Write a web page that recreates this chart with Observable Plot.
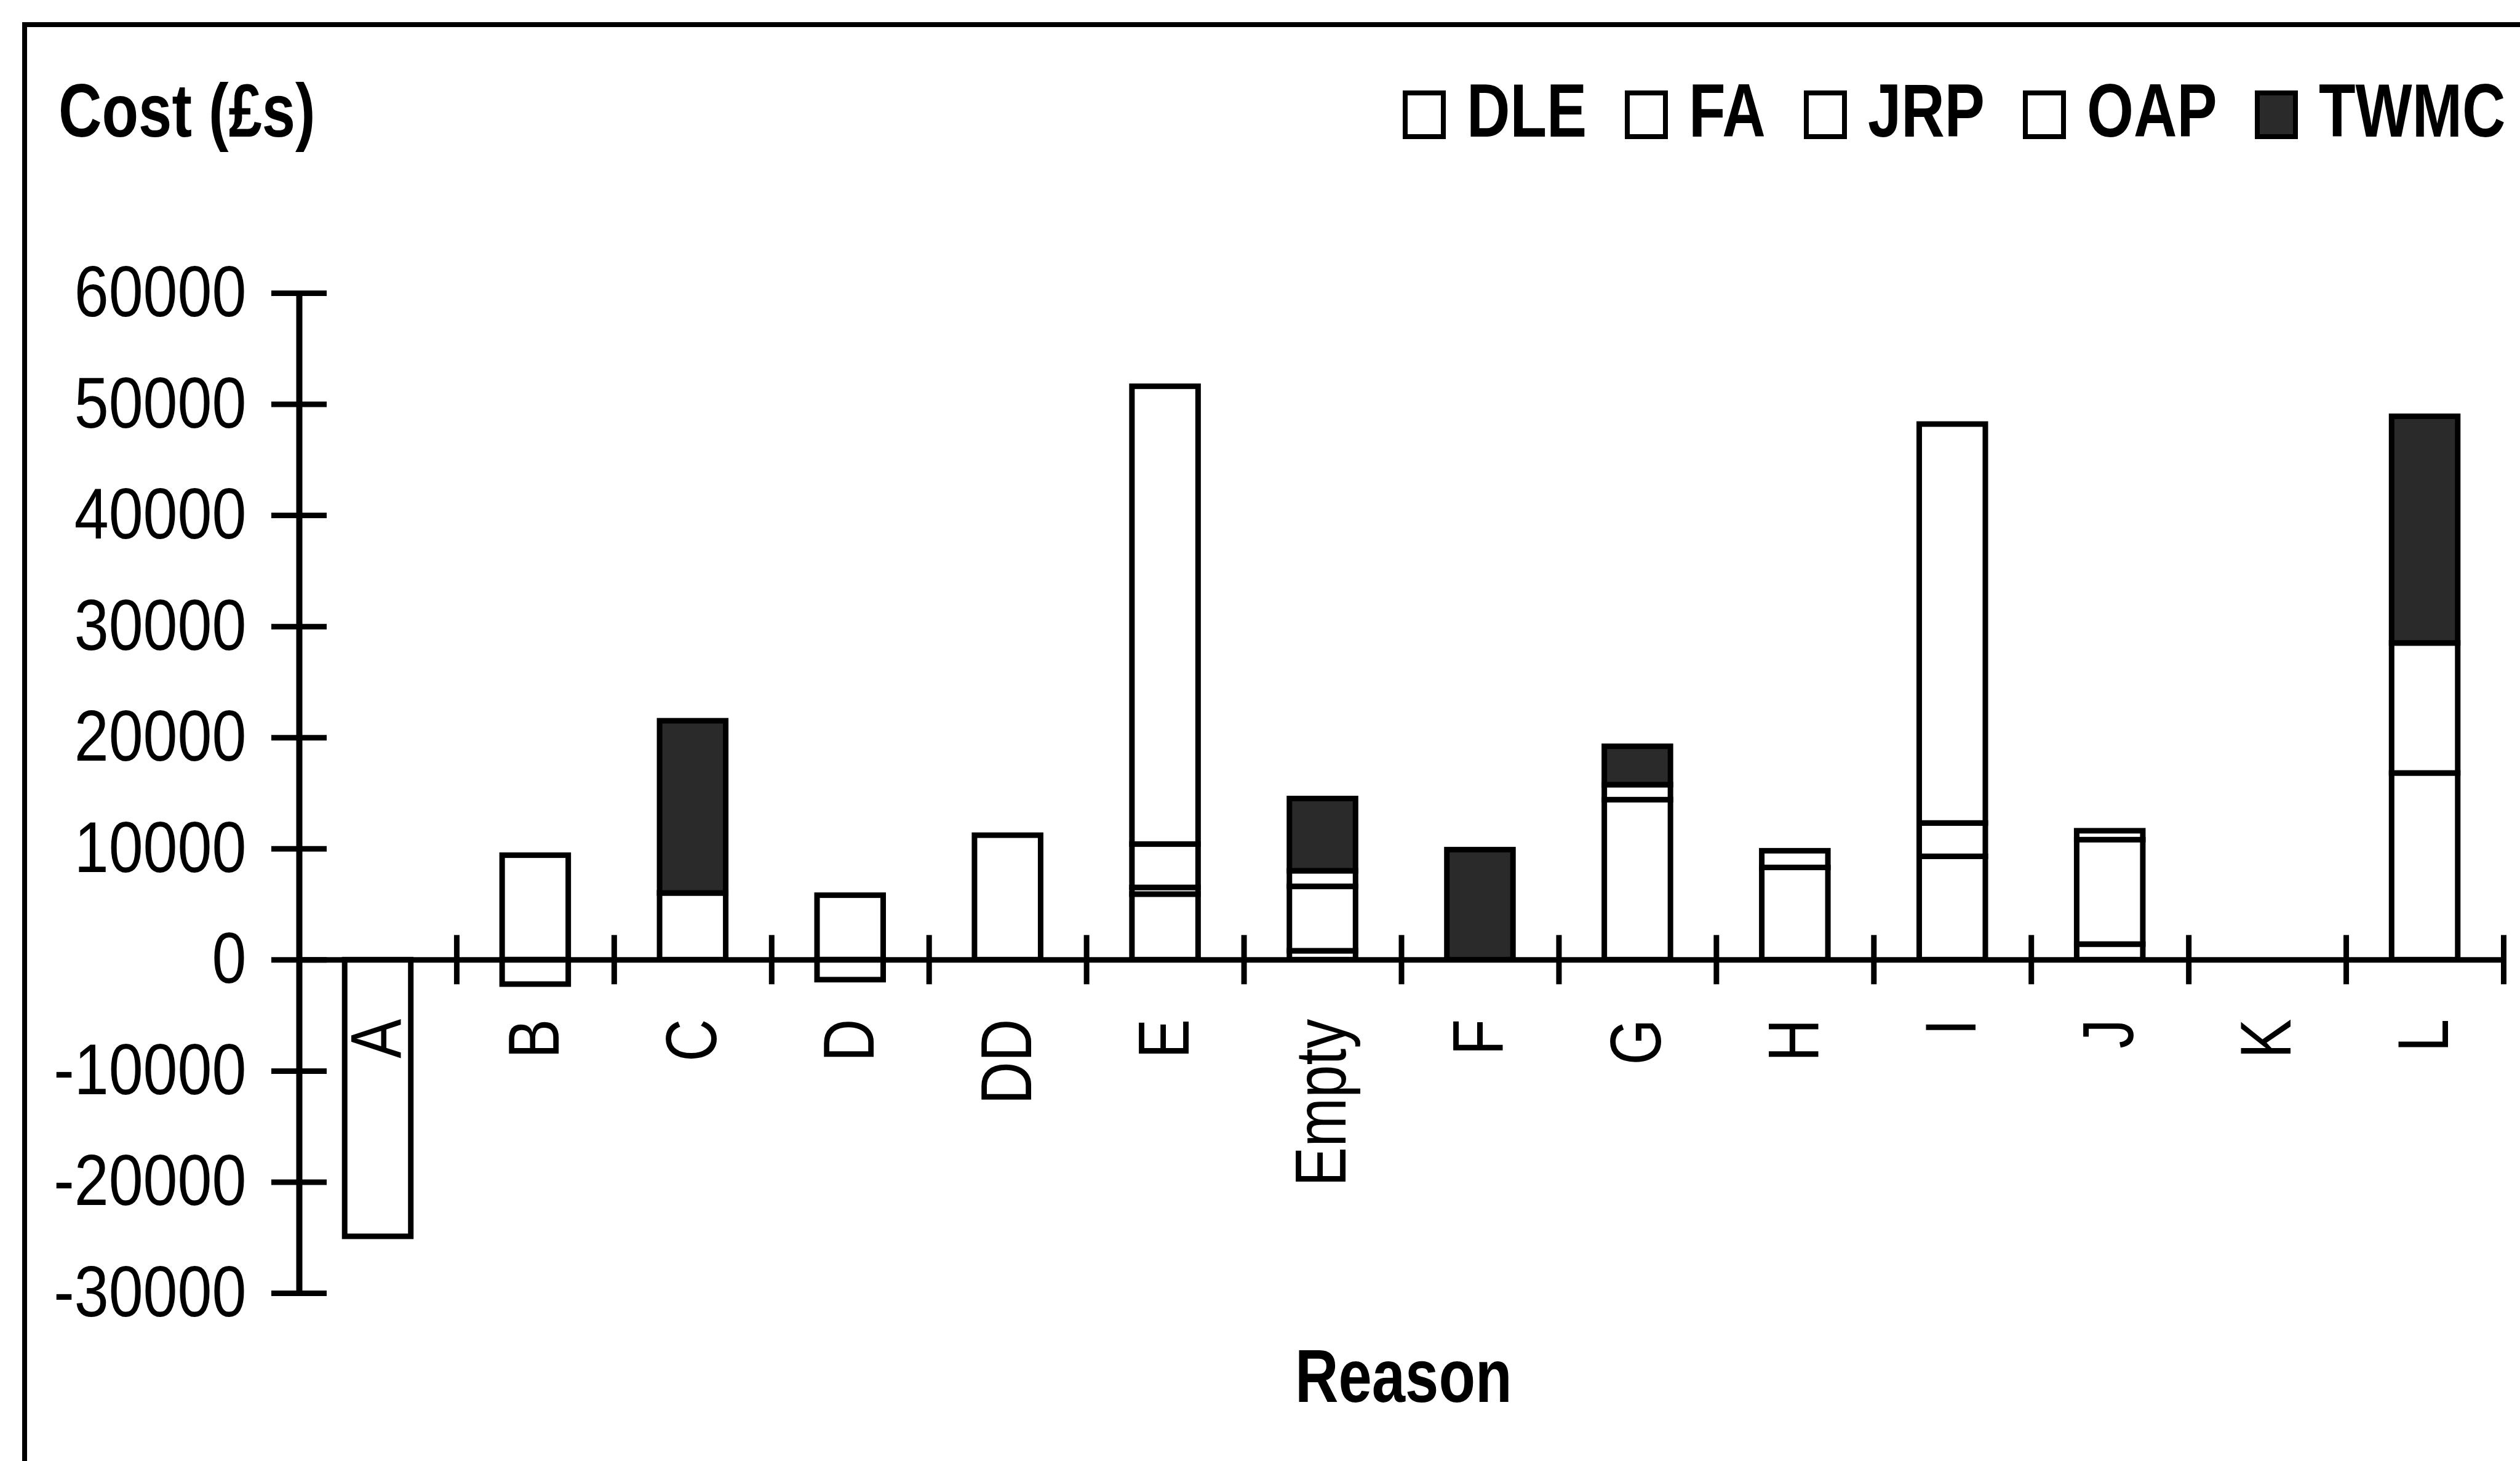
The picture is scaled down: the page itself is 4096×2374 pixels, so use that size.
<!DOCTYPE html>
<html>
<head>
<meta charset="utf-8">
<script src="https://cdn.jsdelivr.net/npm/d3@7"></script>
<script src="https://cdn.jsdelivr.net/npm/@observablehq/plot@0.6"></script>
<style>
  html, body { margin: 0; padding: 0; background: #fff; }
  body {
    width: 4096px; height: 2374px; position: relative; overflow: hidden;
    font-family: "Liberation Sans Narrow", "Arial Narrow", "Liberation Sans", Arial, sans-serif;
    color: #000;
  }
  #frame {
    position: absolute; left: 36px; top: 36px; width: 4300px; height: 2600px;
    border-top: 8px solid #000; border-left: 8px solid #000;
  }
  #chart { position: absolute; left: 0; top: 0; }
  .cond { display: inline-block; transform: scaleX(0.8); transform-origin: left center; }
  #ytitle {
    position: absolute; left: 95px; top: 119px; line-height: 1;
    font-size: 122px; font-weight: bold; white-space: nowrap;
  }
  #legend {
    position: absolute; left: 2280px; top: 119px; height: 122px;
    display: flex; align-items: center; gap: 62px; line-height: 1;
  }
  .item { display: flex; align-items: center; gap: 34px; font-size: 122px; font-weight: bold; white-space: nowrap; }
  .sw { width: 70px; height: 79px; box-sizing: border-box; border: 8px solid #000; position: relative; top: 6px; }
  #xtitle {
    position: absolute; left: 1781px; width: 1000px; top: 2175px; line-height: 1;
    text-align: center; font-size: 122px; font-weight: bold;
  }
  #xtitle .cond { transform-origin: center center; }
</style>
</head>
<body>
<div id="frame"></div>
<div id="chart"></div>
<div id="ytitle"><span class="cond">Cost (£s)</span></div>
<div id="legend"></div>
<div id="xtitle"><span class="cond">Reason</span></div>
<script>
// ---- data ----
const categories = ["A", "B", "C", "D", "DD", "E", "Empty", "F", "G", "H", "I", "J", "K", "L"];
const seriesNames = ["DLE", "FA", "JRP", "OAP", "TWMC"];
const DLE  = [-24900,  9400,  6000,  5800, 11200,  5900,  800,    0,     0,    0,  9300, 1400, 0, 16800];
const FA   = [     0, -2200,     0, -1800,     0,   600, 5800,    0, 14400, 8300,  3000, 9400, 0, 11700];
const JRP  = [     0,     0,     0,     0,     0,  3900, 1400,    0,  1350, 1500,     0,  800, 0,     0];
const OAP  = [     0,     0,     0,     0,     0, 41200,    0,    0,     0,    0, 35900,    0, 0,     0];
const TWMC = [     0,     0, 15500,     0,     0,     0, 6500, 9900,  3450,    0,     0,    0, 0, 20400];
const yTicks = [-30000, -20000, -10000, 0, 10000, 20000, 30000, 40000, 50000, 60000];
const seriesFills = ["#ffffff", "#ffffff", "#ffffff", "#ffffff", "#2a2a2a"];

const seriesValues = {DLE, FA, JRP, OAP, TWMC};
const table = [];
for (const s of seriesNames) {
  categories.forEach((c, i) => {
    const v = seriesValues[s][i];
    if (v !== 0) table.push({category: c, series: s, value: v});
  });
}

// ---- layout ----
const W = 4096, H = 2374;
const ML = 486, MR = 27, MT = 476, MB = 273;
const step = (W - ML - MR) / categories.length;
const yDomain = [-30000, 60000];
const unitsPerPx = (yDomain[1] - yDomain[0]) / (H - MT - MB);
const xTickHalf = 40 * unitsPerPx;
const yTickHalf = 45;
const FONT = '"Liberation Sans Narrow", "Arial Narrow", "Liberation Sans", Arial, sans-serif';

const chart = Plot.plot({
  width: W, height: H,
  marginLeft: ML, marginRight: MR, marginTop: MT, marginBottom: MB,
  style: {background: "transparent", fontFamily: FONT, fontSize: "117px", color: "#000", overflow: "visible"},
  x: {domain: categories, paddingInner: 0.58, paddingOuter: 0.29, round: false, axis: null},
  y: {domain: yDomain, axis: null},
  color: {domain: seriesNames, range: seriesFills},
  marks: [
    Plot.barY(table, {x: "category", y: "value", fill: "series", stroke: "#000", strokeWidth: 9}),
    Plot.ruleY([0], {stroke: "#000", strokeWidth: 9}),
    Plot.ruleX([categories[0]], {x: d => d, dx: -step / 2, y1: yDomain[0], y2: yDomain[1], stroke: "#000", strokeWidth: 10}),
    Plot.ruleY(yTicks, {y: d => d, insetLeft: -yTickHalf, insetRight: (W - ML - MR) - yTickHalf, stroke: "#000", strokeWidth: 9}),
    Plot.ruleX(categories, {x: d => d, dx: step / 2, y1: -xTickHalf, y2: xTickHalf, stroke: "#000", strokeWidth: 9}),
    Plot.text(yTicks, {y: d => d, frameAnchor: "left", dx: -86, textAnchor: "end", text: d => String(d), fill: "#000"}),
    Plot.text(categories, {x: d => d, y: 0, rotate: -90, textAnchor: "end", dy: 96, text: d => d, fill: "#000"})
  ]
});
document.getElementById("chart").appendChild(chart);

// condense the texts horizontally (the reference uses a narrow face)
d3.select(chart).selectAll("text").each(function () {
  const t = this.getAttribute("transform") || "";
  const k = t.includes("rotate") ? 0.82 : 0.86;
  this.setAttribute("transform", t + ` scale(${k},1)`);
});

// legend
const legend = document.getElementById("legend");
seriesNames.forEach((s, i) => {
  const item = document.createElement("div");
  item.className = "item";
  const sw = document.createElement("div");
  sw.className = "sw";
  sw.style.background = seriesFills[i];
  const label = document.createElement("span");
  label.className = "cond";
  label.textContent = s;
  item.appendChild(sw);
  item.appendChild(label);
  legend.appendChild(item);
});
// compensate layout width for the horizontal condensing
document.querySelectorAll("#legend .cond, #ytitle .cond").forEach(el => {
  el.style.marginRight = (-(1 - 0.8) * el.offsetWidth) + "px";
});
</script>
</body>
</html>
